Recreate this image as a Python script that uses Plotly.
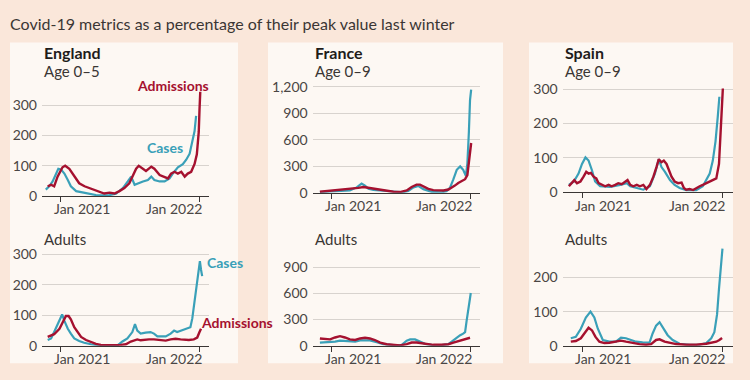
import plotly.graph_objects as go

# ---------------- data (percent of last winter's peak) ----------------
eng_kids_adm_dates = ["2020-11-27","2020-12-06","2020-12-14","2020-12-23","2021-01-05","2021-01-12","2021-01-23","2021-02-05","2021-02-18","2021-03-04","2021-03-17","2021-03-30","2021-04-12","2021-04-25","2021-05-09","2021-05-22","2021-06-04","2021-06-17","2021-06-30","2021-07-09","2021-07-18","2021-07-25","2021-08-05","2021-08-13","2021-08-27","2021-09-04","2021-09-18","2021-10-01","2021-10-10","2021-10-18","2021-10-27","2021-11-05","2021-11-14","2021-11-23","2021-12-01","2021-12-10","2021-12-19","2021-12-25","2021-12-30","2022-01-01","2022-01-03"]
eng_kids_adm = [32,37,32,64,95,100,90,64,42,32,26,21,13,8,11,8,16,26,42,64,90,100,90,83,97,90,69,64,58,74,80,74,80,64,74,80,106,138,212,286,345]

eng_kids_cases_dates = ["2020-11-22","2020-12-01","2020-12-10","2020-12-19","2020-12-25","2021-01-01","2021-01-10","2021-01-19","2021-01-27","2021-02-10","2021-02-27","2021-03-17","2021-04-03","2021-04-21","2021-05-09","2021-05-26","2021-06-13","2021-06-26","2021-07-05","2021-07-14","2021-07-22","2021-08-05","2021-08-18","2021-08-27","2021-09-04","2021-09-18","2021-10-01","2021-10-14","2021-10-23","2021-11-05","2021-11-18","2021-11-27","2021-12-06","2021-12-13","2021-12-19","2021-12-23"]
eng_kids_cases = [21,32,48,74,90,88,74,53,32,16,11,8,3,2,3,7,26,48,64,37,42,48,53,64,53,48,48,58,75,95,105,120,140,175,215,265]

eng_adult_adm_dates = ["2020-11-27","2020-12-14","2020-12-28","2021-01-05","2021-01-14","2021-01-21","2021-01-27","2021-02-05","2021-02-14","2021-02-23","2021-03-08","2021-03-21","2021-04-03","2021-04-16","2021-05-04","2021-05-21","2021-06-08","2021-06-21","2021-07-04","2021-07-13","2021-07-21","2021-07-30","2021-08-08","2021-08-21","2021-09-03","2021-09-21","2021-10-04","2021-10-17","2021-10-30","2021-11-12","2021-11-25","2021-12-04","2021-12-17","2021-12-26","2022-01-01","2022-01-05"]
eng_adult_adm = [29,38,56,77,98,98,87,61,45,29,19,12,6,3,2,2,3,5,14,19,21,18,20,21,21,19,17,21,23,21,19,19,21,27,45,56]

eng_adult_cases_dates = ["2020-11-27","2020-12-06","2020-12-14","2020-12-23","2021-01-04","2021-01-10","2021-01-19","2021-01-27","2021-02-05","2021-02-18","2021-03-03","2021-03-21","2021-04-07","2021-05-04","2021-05-30","2021-06-12","2021-06-25","2021-07-08","2021-07-15","2021-07-21","2021-07-30","2021-08-12","2021-08-25","2021-09-03","2021-09-12","2021-09-21","2021-10-04","2021-10-17","2021-10-26","2021-11-03","2021-11-16","2021-11-30","2021-12-08","2021-12-13","2021-12-17","2021-12-23","2021-12-28","2022-01-02","2022-01-05","2022-01-08"]
eng_adult_cases = [19,24,45,71,103,82,56,40,24,16,10,5,2,1,1,14,24,45,71,50,40,43,45,40,31,31,31,40,50,45,50,56,61,90,130,180,235,278,250,229]

fra_kids_adm_dates = ["2020-12-01","2020-12-19","2021-01-05","2021-01-23","2021-02-10","2021-02-27","2021-03-12","2021-03-26","2021-04-08","2021-04-21","2021-05-09","2021-05-26","2021-06-13","2021-06-30","2021-07-18","2021-07-31","2021-08-13","2021-08-22","2021-08-31","2021-09-13","2021-09-26","2021-10-09","2021-10-23","2021-11-05","2021-11-14","2021-11-22","2021-12-01","2021-12-10","2021-12-19","2021-12-25","2021-12-29","2022-01-01","2022-01-04"]
fra_kids_adm = [11,18,22,29,36,44,55,65,55,44,36,25,11,7,25,65,91,91,73,44,29,25,25,36,55,80,109,127,153,200,327,473,564]

fra_kids_cases_dates = ["2020-12-01","2020-12-28","2021-01-23","2021-02-18","2021-03-08","2021-03-21","2021-03-30","2021-04-08","2021-04-21","2021-05-17","2021-06-13","2021-07-09","2021-07-22","2021-08-05","2021-08-18","2021-08-31","2021-09-22","2021-10-18","2021-10-31","2021-11-09","2021-11-18","2021-11-27","2021-12-06","2021-12-14","2021-12-21","2021-12-25","2021-12-29","2022-01-01","2022-01-04"]
fra_kids_cases = [7,15,18,25,60,102,80,44,30,20,10,5,20,60,75,40,10,5,15,55,150,260,298,260,190,330,690,1050,1170]

fra_adult_adm_dates = ["2020-12-01","2020-12-14","2020-12-28","2021-01-10","2021-01-23","2021-02-05","2021-02-18","2021-03-04","2021-03-17","2021-03-30","2021-04-12","2021-04-25","2021-05-09","2021-05-26","2021-06-13","2021-06-30","2021-07-18","2021-07-31","2021-08-13","2021-08-27","2021-09-09","2021-09-26","2021-10-18","2021-11-05","2021-11-18","2021-12-01","2021-12-14","2021-12-25","2022-01-01"]
fra_adult_adm = [84,77,73,95,110,95,73,66,84,92,84,66,37,18,7,4,18,37,37,29,18,11,11,18,37,55,66,84,92]

fra_adult_cases_dates = ["2020-12-01","2020-12-14","2020-12-28","2021-01-10","2021-01-23","2021-02-05","2021-02-18","2021-03-04","2021-03-17","2021-03-30","2021-04-12","2021-04-30","2021-05-17","2021-06-13","2021-07-05","2021-07-18","2021-07-27","2021-08-09","2021-08-22","2021-09-04","2021-09-22","2021-10-18","2021-11-05","2021-11-14","2021-11-22","2021-12-06","2021-12-14","2021-12-19","2021-12-23","2021-12-28","2021-12-30","2022-01-03"]
fra_adult_cases = [37,40,37,48,59,55,48,48,62,66,62,40,18,7,11,59,73,73,48,22,11,7,18,48,84,121,139,157,285,432,541,604]

esp_kids_adm_dates = ["2020-11-28","2020-12-06","2020-12-12","2020-12-19","2020-12-28","2021-01-05","2021-01-12","2021-01-18","2021-01-24","2021-01-31","2021-02-07","2021-02-13","2021-02-22","2021-03-02","2021-03-11","2021-03-19","2021-03-28","2021-04-05","2021-04-14","2021-04-23","2021-04-29","2021-05-06","2021-05-14","2021-05-23","2021-05-31","2021-06-09","2021-06-17","2021-06-26","2021-07-05","2021-07-13","2021-07-19","2021-07-26","2021-08-01","2021-08-08","2021-08-15","2021-08-21","2021-08-29","2021-09-07","2021-09-16","2021-09-22","2021-09-28","2021-10-07","2021-10-16","2021-10-24","2021-11-02","2021-11-10","2021-11-19","2021-11-28","2021-12-06","2021-12-15","2021-12-22","2021-12-26","2021-12-29","2022-01-01"]
esp_kids_adm = [17,26,35,26,31,45,59,54,56,45,40,26,21,17,21,17,21,26,23,31,35,21,17,21,17,21,9,21,45,73,96,87,92,82,63,45,31,26,28,12,7,9,6,12,17,21,26,31,35,40,82,175,241,302]

esp_kids_cases_dates = ["2020-11-28","2020-12-11","2020-12-23","2021-01-01","2021-01-10","2021-01-18","2021-01-27","2021-02-04","2021-02-17","2021-03-15","2021-04-10","2021-04-27","2021-05-06","2021-05-23","2021-06-09","2021-06-26","2021-07-09","2021-07-19","2021-07-26","2021-08-04","2021-08-17","2021-08-29","2021-09-11","2021-09-28","2021-10-24","2021-11-10","2021-11-19","2021-11-28","2021-12-06","2021-12-13","2021-12-19","2021-12-23"]
esp_kids_cases = [21,31,54,82,101,92,63,31,17,15,21,26,17,12,7,17,54,96,73,59,35,21,12,6,6,17,35,54,92,148,222,278]

esp_adult_adm_dates = ["2020-12-03","2020-12-16","2020-12-29","2021-01-10","2021-01-18","2021-01-27","2021-02-05","2021-02-15","2021-02-28","2021-03-13","2021-03-30","2021-04-12","2021-04-25","2021-05-12","2021-05-30","2021-06-16","2021-06-29","2021-07-12","2021-07-21","2021-08-03","2021-08-16","2021-09-02","2021-09-28","2021-10-24","2021-11-19","2021-12-02","2021-12-15","2021-12-23","2021-12-30"]
esp_adult_adm = [12,14,22,40,53,45,26,12,8,9,12,15,12,8,5,3,5,17,19,12,8,5,3,3,6,8,12,17,23]

esp_adult_cases_dates = ["2020-12-03","2020-12-16","2020-12-29","2021-01-11","2021-01-23","2021-02-02","2021-02-11","2021-02-24","2021-03-13","2021-03-30","2021-04-12","2021-04-25","2021-05-08","2021-05-21","2021-06-07","2021-06-25","2021-07-03","2021-07-12","2021-07-21","2021-07-29","2021-08-11","2021-08-24","2021-09-11","2021-10-07","2021-11-02","2021-11-19","2021-12-02","2021-12-10","2021-12-17","2021-12-22","2021-12-27","2021-12-31"]
esp_adult_cases = [22,26,50,83,100,83,50,17,12,12,24,22,17,12,10,9,36,59,69,54,31,17,6,3,3,8,22,40,92,167,242,285]

countries = ["England", "France", "Spain"]
age_groups = ["Age 0–5", "Age 0–9", "Age 0–9"]
adults_label = "Adults"
x_tick_dates = ["2021-01-01", "2022-01-01"]
x_tick_labels = ["Jan 2021", "Jan 2022"]
y_ticks_eng = [0, 100, 200, 300]
y_ticks_fra_kids = [0, 300, 600, 900, 1200]
y_ticks_fra_adult = [0, 300, 600, 900]
y_ticks_esp_kids = [0, 100, 200, 300]
y_ticks_esp_adult = [0, 100, 200]
title_text = "Covid-19 metrics as a percentage of their peak value last winter"

# ---------------- styling ----------------
W, H = 750, 380
PAGE = "#fae7da"
CARD = "#fdf8f3"
TEAL = "#3aa0b8"
RED = "#a5112f"
GRID = "#d8d3ce"
AXIS = "#3a3634"
TXT = "#3a3634"
TICK = "#4a4644"
FONT = "Lato"
XRANGE = ["2020-11-12", "2022-01-26"]

def fx(px):
    return px / W

def fy(py):
    return 1 - py / H

# panel layout: (x px span, y px span, y range, ticks, cases, adm)
panels = [
    ((42, 209), (86.7, 196.7), [0, 350], y_ticks_eng,
     (eng_kids_cases_dates, eng_kids_cases), (eng_kids_adm_dates, eng_kids_adm)),
    ((312.7, 479.5), (80.5, 193.3), [0, 1230], y_ticks_fra_kids,
     (fra_kids_cases_dates, fra_kids_cases), (fra_kids_adm_dates, fra_kids_adm)),
    ((562.7, 732.5), (83.8, 192.7), [0, 305], y_ticks_esp_kids,
     (esp_kids_cases_dates, esp_kids_cases), (esp_kids_adm_dates, esp_kids_adm)),
    ((42, 209), (254.5, 352.7), [0, 310], y_ticks_eng,
     (eng_adult_cases_dates, eng_adult_cases), (eng_adult_adm_dates, eng_adult_adm)),
    ((312.7, 479.5), (268.1, 352.7), [0, 930], y_ticks_fra_adult,
     (fra_adult_cases_dates, fra_adult_cases), (fra_adult_adm_dates, fra_adult_adm)),
    ((562.7, 732.5), (249.0, 352.7), [0, 292], y_ticks_esp_adult,
     (esp_adult_cases_dates, esp_adult_cases), (esp_adult_adm_dates, esp_adult_adm)),
]

fig = go.Figure()
layout = dict(
    width=W, height=H, margin=dict(l=0, r=0, t=0, b=0),
    paper_bgcolor=PAGE, plot_bgcolor="rgba(0,0,0,0)",
    showlegend=False, font=dict(family=FONT, color=TXT),
)
annotations = []
shapes = []

# cards
for x0, x1 in [(10, 238), (268, 503), (529, 733)]:
    shapes.append(dict(type="rect", xref="paper", yref="paper", layer="below",
                       x0=fx(x0), x1=fx(x1), y0=fy(371), y1=fy(37),
                       fillcolor=CARD, line=dict(width=0)))

for i, (xs, ys, yr, yt, cases, adm) in enumerate(panels):
    n = i + 1
    xa = "xaxis" if n == 1 else f"xaxis{n}"
    ya = "yaxis" if n == 1 else f"yaxis{n}"
    xref = "x" if n == 1 else f"x{n}"
    yref = "y" if n == 1 else f"y{n}"
    fig.add_trace(go.Scatter(x=cases[0], y=cases[1], mode="lines", xaxis=xref, yaxis=yref,
                             line=dict(color=TEAL, width=2.2), name="Cases"))
    fig.add_trace(go.Scatter(x=adm[0], y=adm[1], mode="lines", xaxis=xref, yaxis=yref,
                             line=dict(color=RED, width=2.4), name="Admissions"))
    layout[xa] = dict(domain=[fx(xs[0]), fx(xs[1])], anchor=yref, type="date", range=XRANGE,
                      tickvals=x_tick_dates, showticklabels=False, ticks="outside", ticklen=5,
                      tickcolor=AXIS, tickwidth=1, showline=True, linecolor=AXIS, linewidth=1,
                      showgrid=False, zeroline=False, fixedrange=True)
    layout[ya] = dict(domain=[fy(ys[1]), fy(ys[0])], anchor=xref, range=yr, tickvals=yt,
                      tickformat=",", showgrid=True, gridcolor=GRID, gridwidth=1,
                      zeroline=False, showline=False, ticks="", ticklabelstandoff=4,
                      tickfont=dict(family=FONT, size=14, color=TICK), fixedrange=True)
    # x tick labels
    for d, lab, anc, sh in zip(x_tick_dates, x_tick_labels, ["left", "right"], [-9, 4]):
        annotations.append(dict(x=d, xref=xref, y=fy(ys[1] + 13.5), yref="paper",
                                text=lab, showarrow=False, xanchor=anc, yanchor="middle",
                                xshift=sh, font=dict(family=FONT, size=14, color=TICK)))

# panel headings
for c, (name, age) in enumerate(zip(countries, age_groups)):
    x0 = panels[c][0][0]
    annotations.append(dict(x=fx(x0), y=fy(47), xref="paper", yref="paper", text=f"<b>{name}</b>",
                            showarrow=False, xanchor="left", yanchor="middle",
                            font=dict(family=FONT, size=16, color="#1f1c1b")))
    annotations.append(dict(x=fx(x0), y=fy(66.5), xref="paper", yref="paper", text=age,
                            showarrow=False, xanchor="left", yanchor="middle",
                            font=dict(family=FONT, size=15, color=TXT)))
    annotations.append(dict(x=fx(x0), y=fy(241.7), xref="paper", yref="paper", text=adults_label,
                            showarrow=False, xanchor="left", yanchor="middle",
                            font=dict(family=FONT, size=15, color=TXT)))

# series labels (England)
for txt, col, xp, yp in [("Admissions", RED, 135, 81.7), ("Cases", TEAL, 145, 146),
                          ("Cases", TEAL, 205, 265.7), ("Admissions", RED, 199, 328.3)]:
    annotations.append(dict(x=fx(xp), y=fy(yp), xref="paper", yref="paper", text=f"<b>{txt}</b>",
                            showarrow=False, xanchor="left", yanchor="middle",
                            font=dict(family=FONT, size=14, color=col)))

# title
annotations.append(dict(x=fx(8), y=fy(17), xref="paper", yref="paper", text=title_text,
                        showarrow=False, xanchor="left", yanchor="middle",
                        font=dict(family=FONT, size=16, color=TXT)))

layout["annotations"] = annotations
layout["shapes"] = shapes
fig.update_layout(**layout)
fig.write_html("out.html", config={"displayModeBar": False},
               post_script="document.body.style.margin='0';document.body.style.background='" + PAGE + "';")
